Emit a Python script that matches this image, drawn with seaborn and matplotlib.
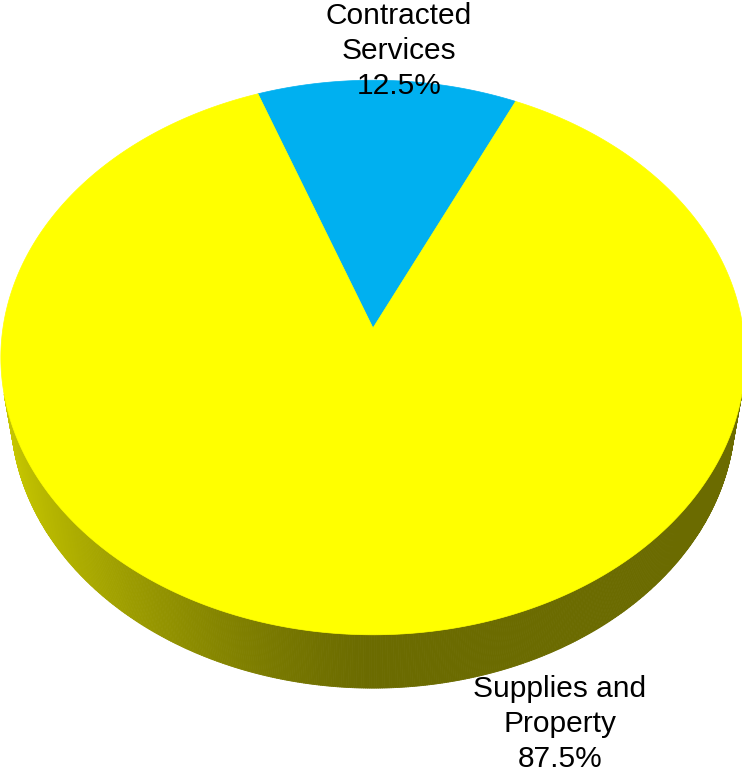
import numpy as np
import matplotlib
matplotlib.use("Agg")
import matplotlib.pyplot as plt
from matplotlib.collections import PolyCollection
from matplotlib.colors import to_rgb
import seaborn as sns

# Budget shares by category
categories = ["Contracted\nServices", "Supplies and\nProperty"]
shares = [12.5, 87.5]
slice_colors = ["#00B0F0", "#FFFF00"]

sns.set_theme(style="white")
plt.rcParams["font.family"] = ["Liberation Sans", "DejaVu Sans"]

W, H = 742, 772
fig = plt.figure(figsize=(W / 100, H / 100), dpi=100)
ax = fig.add_axes([0, 0, 1, 1])
ax.set_xlim(0, W)
ax.set_ylim(H, 0)
ax.axis("off")

# Perspective camera for a tilted disc of unit radius
phi = np.radians(47.8)
sphi, cphi = np.sin(phi), np.cos(phi)
cam_dist = 6.31
focal = 2335.0
thickness = 0.231
ox, oy = 373.0, 328.0
start_deg = 65.0


def project(x, y, z):
    den = cam_dist + y * cphi - z * sphi
    return ox + focal * x / den, oy - focal * (y * sphi + z * cphi) / den


# slice angle ranges (counter-clockwise from start angle)
fracs = np.array(shares) / np.sum(shares)
bounds = np.radians(start_deg + 360.0 * np.concatenate([[0], np.cumsum(fracs)]))


def slice_at(t):
    tt = t
    while tt < bounds[0]:
        tt += 2 * np.pi
    while tt >= bounds[-1]:
        tt -= 2 * np.pi
    return int(np.searchsorted(bounds, tt, side="right") - 1)


# side wall: visible between the two silhouette generators
ts = np.arcsin(1.0 / (cam_dist * cphi))
t_side = np.linspace(np.pi + ts, 2 * np.pi - ts, 500)
quads, qcols = [], []
for a, b in zip(t_side[:-1], t_side[1:]):
    pts = [project(np.cos(a), np.sin(a), 0), project(np.cos(b), np.sin(b), 0),
           project(np.cos(b), np.sin(b), -thickness), project(np.cos(a), np.sin(a), -thickness)]
    m = 0.5 * (a + b)
    shade = 0.42 + 0.38 * max(0.0, -np.cos(m)) ** 1.35
    base = np.array(to_rgb(slice_colors[slice_at(m)]))
    quads.append(pts)
    qcols.append(tuple(base * shade))
ax.add_collection(PolyCollection(quads, facecolors=qcols, edgecolors=qcols,
                                 linewidths=0.6, antialiased=True))

# top face wedges
for i, col in enumerate(slice_colors):
    t = np.linspace(bounds[i], bounds[i + 1], 400)
    xs, ys = project(np.cos(t), np.sin(t), 0 * t)
    cx, cy = project(0, 0, 0)
    poly = np.column_stack([np.r_[cx, xs], np.r_[cy, ys]])
    ax.fill(poly[:, 0], poly[:, 1], color=col, lw=0.5, ec=col, zorder=3)

# labels
label_pos = [(399, 51), (560, 724)]
for name, val, (lx, ly) in zip(categories, shares, label_pos):
    ax.text(lx, ly, f"{name}\n{val:.1f}%", ha="center", va="center",
            fontsize=21.5, color="black", linespacing=1.3, zorder=5)

fig.savefig("out.png", dpi=100, facecolor="white")
